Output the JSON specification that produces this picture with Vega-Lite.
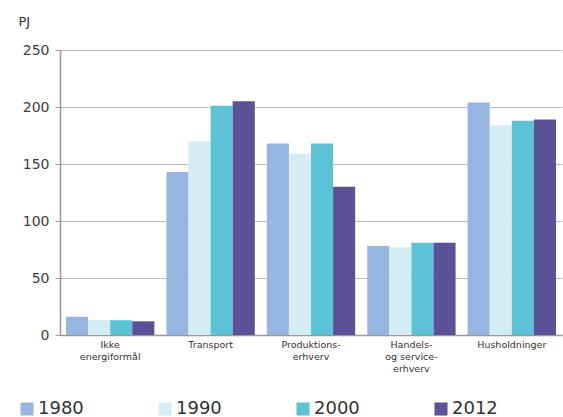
{
  "$schema": "https://vega.github.io/schema/vega-lite/v6.json",
  "width": 502,
  "height": 285,
  "autosize": {"type": "none"},
  "padding": {"left": 60, "top": 50, "right": 1, "bottom": 82},
  "background": "white",
  "config": {"font": "DejaVu Sans", "view": {"stroke": null}},
  "data": {"values": [
    {"cat": "Ikke|energiformål", "year": "1980", "pj": 16},
    {"cat": "Ikke|energiformål", "year": "1990", "pj": 13},
    {"cat": "Ikke|energiformål", "year": "2000", "pj": 13},
    {"cat": "Ikke|energiformål", "year": "2012", "pj": 12},
    {"cat": "Transport", "year": "1980", "pj": 143},
    {"cat": "Transport", "year": "1990", "pj": 170},
    {"cat": "Transport", "year": "2000", "pj": 201},
    {"cat": "Transport", "year": "2012", "pj": 205},
    {"cat": "Produktions-|erhverv", "year": "1980", "pj": 168},
    {"cat": "Produktions-|erhverv", "year": "1990", "pj": 159},
    {"cat": "Produktions-|erhverv", "year": "2000", "pj": 168},
    {"cat": "Produktions-|erhverv", "year": "2012", "pj": 130},
    {"cat": "Handels-|og service-|erhverv", "year": "1980", "pj": 78},
    {"cat": "Handels-|og service-|erhverv", "year": "1990", "pj": 77},
    {"cat": "Handels-|og service-|erhverv", "year": "2000", "pj": 81},
    {"cat": "Handels-|og service-|erhverv", "year": "2012", "pj": 81},
    {"cat": "Husholdninger", "year": "1980", "pj": 204},
    {"cat": "Husholdninger", "year": "1990", "pj": 184},
    {"cat": "Husholdninger", "year": "2000", "pj": 188},
    {"cat": "Husholdninger", "year": "2012", "pj": 189}
  ]},
  "mark": {"type": "bar"},
  "encoding": {
    "x": {
      "field": "cat", "type": "nominal", "sort": null,
      "scale": {"paddingInner": 0.12, "paddingOuter": 0.06},
      "axis": {
        "title": null, "labelAngle": 0, "labelExpr": "split(datum.label, '|')",
        "labelFontSize": 9.5, "labelColor": "#333333", "labelPadding": 4,
        "ticks": false, "domainColor": "#999999", "domainWidth": 1.5, "labelLineHeight": 12
      }
    },
    "xOffset": {"field": "year", "type": "nominal", "scale": {"paddingInner": 0, "paddingOuter": 0}},
    "y": {
      "field": "pj", "type": "quantitative",
      "scale": {"domain": [0, 250], "nice": false},
      "axis": {
        "title": "PJ", "titleAngle": 0, "titleAlign": "left", "titleBaseline": "middle",
        "titleX": -42, "titleY": -29, "titleFontSize": 13, "titleFontWeight": "normal", "titleColor": "#333333",
        "values": [0, 50, 100, 150, 200, 250],
        "labelFontSize": 14, "labelColor": "#404040", "labelPadding": 6,
        "tickColor": "#999999", "tickSize": 5, "gridColor": "#bbbbbb", "gridWidth": 1.2,
        "domainColor": "#999999", "domainWidth": 1.5
      }
    },
    "color": {
      "field": "year", "type": "nominal",
      "scale": {"domain": ["1980", "1990", "2000", "2012"], "range": ["#97b5e1", "#d4ecf4", "#5cc3d6", "#5a5197"]},
      "legend": {
        "title": null, "orient": "none", "direction": "horizontal",
        "legendX": -42, "legendY": 350,
        "symbolType": "square", "symbolSize": 170, "symbolStrokeWidth": 0,
        "labelFontSize": 18, "labelColor": "#333333", "columnPadding": 72, "labelOffset": 2
      }
    }
  }
}
